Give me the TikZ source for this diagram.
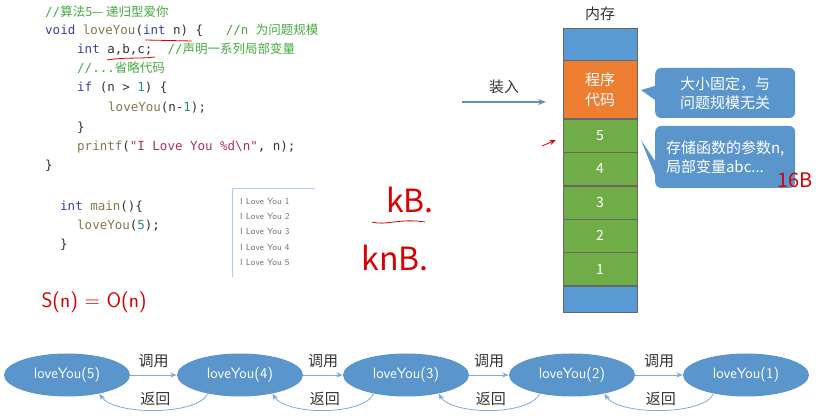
\documentclass[tikz,border=0pt]{standalone}
\usepackage{fontspec}
\setmainfont{Noto Sans CJK SC}
\newfontfamily\codefont{DejaVu Sans Mono}
\newfontfamily\cjk{Noto Sans CJK SC}
\usepackage{xcolor}
\usetikzlibrary{positioning,arrows.meta,shapes.geometric}
\definecolor{kw}{HTML}{3C3CA8}
\definecolor{cmt}{HTML}{46A840}
\definecolor{fn}{HTML}{86764A}
\definecolor{str}{HTML}{A8345A}
\definecolor{num}{HTML}{2A8A8A}
\definecolor{memblue}{HTML}{5B9BD5}
\definecolor{memorange}{HTML}{ED7D31}
\definecolor{memgreen}{HTML}{70AD47}
\definecolor{callblue}{HTML}{5A96CC}
\newcommand{\cm}[1]{\textcolor{cmt}{#1}}
\newcommand{\kw}[1]{\textcolor{kw}{#1}}
\newcommand{\fn}[1]{\textcolor{fn}{#1}}

\begin{document}
\begin{tikzpicture}[x=1pt, y=-1pt, >=Stealth, font=\codefont\fontsize{12.5}{14}\selectfont]
\tikzstyle{code}=[anchor=west, inner sep=0pt, text=black!80]
\tikzstyle{outline}=[anchor=west, inner sep=0pt, text=black!55, font=\sffamily\fontsize{9}{10}\selectfont]
\tikzstyle{cell}=[draw=black!60, minimum width=74pt, inner sep=0pt, text=white, font=\cjk\fontsize{14}{16}\selectfont]
\tikzstyle{callout}=[fill=callblue, rounded corners=6pt, text=white, align=left, minimum width=140pt, font=\cjk\fontsize{15}{19}\selectfont]
\tikzstyle{call}=[ellipse, fill=callblue, minimum width=126pt, minimum height=43pt, text=white, font=\sffamily\fontsize{15}{17}\selectfont]
\tikzstyle{lab}=[font=\cjk\fontsize{15}{17}\selectfont, text=black!80]
\tikzstyle{hand}=[red!85!black, font=\itshape\fontsize{32}{34}\selectfont]

\useasboundingbox (0,0) rectangle (831,419);

% code
\node[code] (c1) at (45,12) {\cm{//\cjk 算法5— 递归型爱你}};
\node[code] (c2) at (45,30) {\kw{void} \fn{loveYou}(\kw{int} n) \{\ \ \ \cm{//n {\cjk 为问题规模}}};
\node[code] (c3) at (77,49) {\kw{int} a,b,c;\ \ \cm{//{\cjk 声明一系列局部变量}}};
\node[code] (c4) at (77,68) {\cm{//...{\cjk 省略代码}}};
\node[code] (c5) at (77,88) {\kw{if} (n > \textcolor{num}{1}) \{};
\node[code] (c6) at (108,108) {\fn{loveYou}(n-\textcolor{num}{1});};
\node[code] (c7) at (77,128) {\}};
\node[code] (c8) at (77,147) {\fn{printf}(\textcolor{str}{"I Love You \%d\textbackslash n"}, n);};
\node[code] (c9) at (45,166) {\}};
\node[code] (m1) at (60,207) {\kw{int} \fn{main}()\{};
\node[code] (m2) at (77,226) {\fn{loveYou}(\textcolor{num}{5});};
\node[code] (m3) at (60,245) {\}};
\draw[red!85!black, thick] (145,40) -- (192,41);
\draw[red!85!black, thick] (107,60) .. controls (125,57) and (140,59) .. (155,57);

% output window
\draw[memblue!50, thick] (232,277) -- (232,188) -- (315,188);
\foreach \i in {1,...,5}
  \node[outline] (o\i) at (240,186+15.3*\i) {I Love You \i};

\node[anchor=west, red!85!black, font=\sffamily\fontsize{21}{23}\selectfont] (snon) at (38,302) {S(n) = O(n)};

% handwriting
\node[hand] (kb) at (410,200) {kB.};
\node[hand] (knb) at (395,258) {knB.};
\draw[red!85!black, thick] (372,222) .. controls (385,226) and (400,218) .. (425,222);
\draw[red!85!black, thick, ->] (542,146) -- (556,140);

% memory
\node[lab] (mem) at (600,14) {内存};
\node[cell, fill=memblue, minimum height=32pt, anchor=north] (top) at (600,28) {};
\node[cell, fill=memorange, minimum height=58pt, below=0pt of top, align=center, font=\cjk\fontsize{15}{20}\selectfont] (prog) {程序\\代码};
\node[cell, fill=memgreen, minimum height=33pt, below=0pt of prog] (s5) {5};
\node[cell, fill=memgreen, minimum height=33pt, below=0pt of s5] (s4) {4};
\node[cell, fill=memgreen, minimum height=33pt, below=0pt of s4] (s3) {3};
\node[cell, fill=memgreen, minimum height=33pt, below=0pt of s3] (s2) {2};
\node[cell, fill=memgreen, minimum height=33pt, below=0pt of s2] (s1) {1};
\node[cell, fill=memblue, minimum height=26pt, below=0pt of s1] (bot) {};

\node[callout, minimum height=50pt, anchor=west] (fixed) at (655,93) {大小固定，与\\问题规模无关};
\node[callout, minimum height=62pt, anchor=west] (param) at (655,157) {存储函数的参数n,\\局部变量abc...};
\fill[callblue] ([yshift=-7pt]fixed.west) -- (641,90) -- ([yshift=7pt]fixed.west) -- cycle;
\fill[callblue] ([yshift=-18pt]param.west) -- (641,140) -- ([yshift=-4pt]param.west) -- cycle;
\node[hand, font=\itshape\fontsize{20}{22}\selectfont] (sb) at (795,180) {16B};

\coordinate (ldA) at (462,102);
\draw[-{Stealth[length=8pt]}, callblue!70!gray, line width=1.5pt] (ldA) -- ++(84,0) node[midway, above=4pt, lab] (load) {装入};

% call chain
\node[call] (f5) at (67,375) {loveYou(5)};
\node[call] (f4) at (240,375) {loveYou(4)};
\node[call] (f3) at (406,375) {loveYou(3)};
\node[call] (f2) at (572,375) {loveYou(2)};
\node[call] (f1) at (746,375) {loveYou(1)};
\foreach \a/\b in {f5/f4, f4/f3, f3/f2, f2/f1} {
  \draw[->, callblue!80, thick] (\a) -- node[above=3pt, lab] {调用} (\b);
  \draw[->, callblue!80, thick] (\b.-150) .. controls +(-10,22) and +(15,22) .. (\a.-30)
    node[pos=0.5, above=1pt, lab] {返回};
}
\end{tikzpicture}
\end{document}
